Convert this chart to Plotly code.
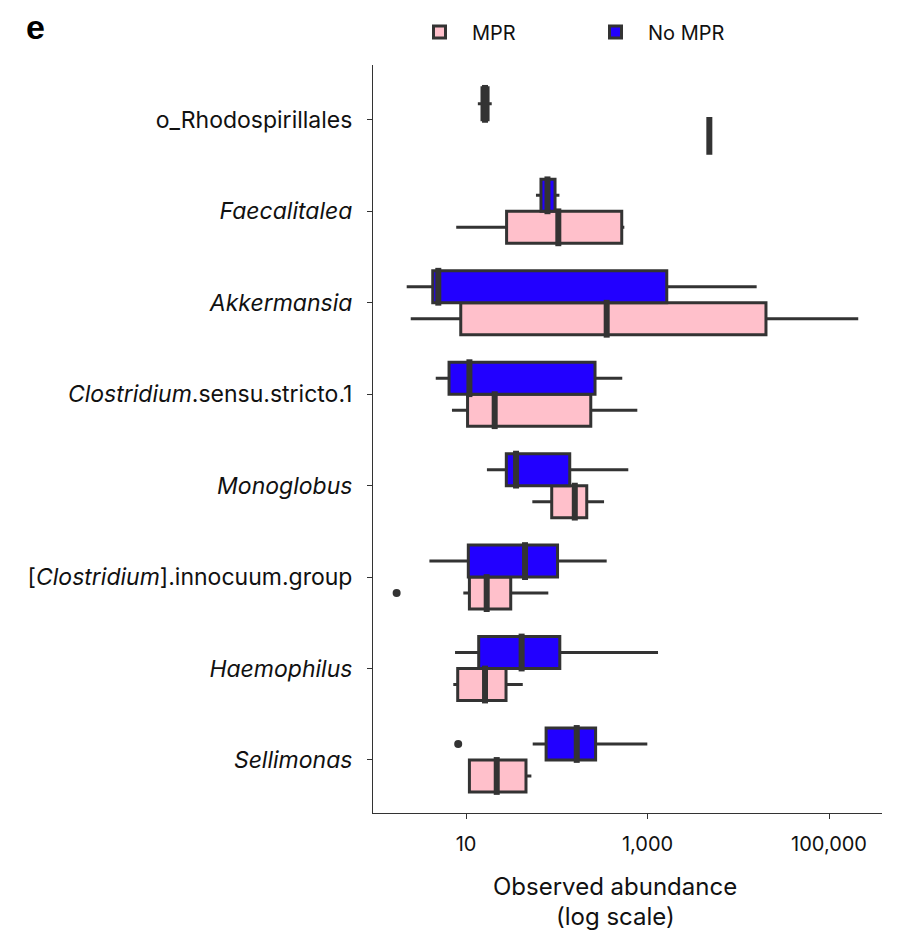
import plotly.graph_objects as go

# ---- data (observed abundance) ----
categories = [
    "o_Rhodospirillales",
    "Faecalitalea",
    "Akkermansia",
    "Clostridium.sensu.stricto.1",
    "Monoglobus",
    "[Clostridium].innocuum.group",
    "Haemophilus",
    "Sellimonas",
]
tick_labels = [
    "o_Rhodospirillales",
    "<i>Faecalitalea</i>",
    "<i>Akkermansia</i>",
    "<i>Clostridium</i>.sensu.stricto.1",
    "<i>Monoglobus</i>",
    "[<i>Clostridium</i>].innocuum.group",
    "<i>Haemophilus</i>",
    "<i>Sellimonas</i>",
]

# MPR
mpr_low = [4800, 7.8, 2.46, 7.0, 53.8, 9.34, 7.24, 10.9]
mpr_q1 = [4750, 28, 8.75, 10.4, 88, 10.9, 8.1, 10.9]
mpr_med = [4800, 104, 355, 20.7, 158, 16.9, 16.2, 21.8]
mpr_q3 = [4850, 520, 20200, 237, 214, 31.1, 27.6, 45.8]
mpr_high = [4850, 555, 210000, 772, 332, 80.7, 42.2, 52.5]
mpr_out_cat = ["[Clostridium].innocuum.group"]
mpr_out_val = [1.72]

# No MPR
nompr_low = [13.5, 59, 2.22, 4.64, 17, 3.95, 7.57, 54.3]
nompr_q1 = [15.0, 67, 4.3, 6.5, 27.8, 10.6, 13.8, 76.3]
nompr_med = [16.2, 79, 4.95, 10.9, 35.6, 44.7, 41, 166]
nompr_q3 = [17.5, 95.7, 1630, 264, 139, 102, 108, 268]
nompr_high = [19.2, 107, 15950, 527, 614, 355, 1306, 995]
nompr_out_cat = ["Sellimonas"]
nompr_out_val = [8.2]

x_tick_vals = [10, 1000, 100000]
x_tick_text = ["10", "1,000", "100,000"]
x_title_lines = ["Observed abundance", "(log scale)"]

LINE = "#333333"
PINK = "#FFC0CB"
BLUE = "#2200FF"
FONT = "Inter"

W, H = 899, 930
ML, MR, MT, MB = 365, 25, 57, 125
PW, PH = W - ML - MR, H - MT - MB


def px_to_paper_x(px):
    return (px - ML) / PW


def px_to_paper_y(py):
    return (H - MB - py) / PH


fig = go.Figure()
fig.add_trace(go.Box(
    name="MPR", y=categories, orientation="h",
    q1=mpr_q1, median=mpr_med, q3=mpr_q3,
    lowerfence=mpr_low, upperfence=mpr_high,
    fillcolor=PINK, line=dict(color=LINE, width=3),
    whiskerwidth=0, offsetgroup="MPR", boxpoints=False,
))
fig.add_trace(go.Box(
    name="No MPR", y=categories, orientation="h",
    q1=nompr_q1, median=nompr_med, q3=nompr_q3,
    lowerfence=nompr_low, upperfence=nompr_high,
    fillcolor=BLUE, line=dict(color=LINE, width=3),
    whiskerwidth=0, offsetgroup="NoMPR", boxpoints=False,
))
# thicker median bars
for med, grp in ((mpr_med, "MPR"), (nompr_med, "NoMPR")):
    fig.add_trace(go.Scatter(
        x=med, y=categories, mode="markers", orientation="h",
        marker=dict(symbol="line-ns", size=27, line=dict(color=LINE, width=6)),
        offsetgroup=grp, showlegend=False, hoverinfo="skip",
    ))
fig.add_trace(go.Scatter(
    x=mpr_out_val, y=mpr_out_cat, mode="markers", orientation="h",
    marker=dict(color=LINE, size=8), offsetgroup="MPR", showlegend=False,
))
fig.add_trace(go.Scatter(
    x=nompr_out_val, y=nompr_out_cat, mode="markers", orientation="h",
    marker=dict(color=LINE, size=8), offsetgroup="NoMPR", showlegend=False,
))

fig.update_layout(
    width=W, height=H,
    margin=dict(l=ML, r=MR, t=MT, b=MB, autoexpand=False),
    paper_bgcolor="white", plot_bgcolor="white",
    boxmode="group", boxgap=0.3, boxgroupgap=0.0,
    scattermode="group", scattergap=0.3,
    font=dict(family=FONT, size=21, color="#111111"),
    legend=dict(
        orientation="h", x=399 / W, xref="container", xanchor="left",
        y=1 - 24 / H, yref="container", yanchor="middle",
        font=dict(size=20), itemwidth=55, traceorder="normal",
        entrywidth=106, entrywidthmode="pixels",
    ),
    xaxis=dict(
        type="log", range=[-0.025, 5.584],
        tickvals=x_tick_vals, ticktext=x_tick_text,
        ticks="outside", ticklen=5, tickcolor=LINE, ticklabelstandoff=8,
        showline=True, linecolor=LINE, linewidth=1,
        showgrid=False, zeroline=False,
        tickfont=dict(size=20),
    ),
    yaxis=dict(
        type="category", categoryorder="array", categoryarray=categories[::-1],
        tickvals=categories, ticktext=tick_labels,
        range=[-0.58, 7.6],
        ticks="outside", ticklen=5, tickcolor=LINE, ticklabelstandoff=10,
        showline=True, linecolor=LINE, linewidth=1,
        showgrid=False, zeroline=False, tickfont=dict(size=23),
    ),
    annotations=[
        dict(
            text="<b>e</b>", x=px_to_paper_x(27), y=px_to_paper_y(19),
            xref="paper", yref="paper", showarrow=False,
            xanchor="center", yanchor="middle",
            font=dict(family="Liberation Sans", size=34, color="black"),
        ),
        dict(
            text=x_title_lines[0], x=px_to_paper_x(607), y=px_to_paper_y(878),
            xref="paper", yref="paper", showarrow=False,
            xanchor="center", yanchor="middle",
            font=dict(size=24),
        ),
        dict(
            text=x_title_lines[1], x=px_to_paper_x(607), y=px_to_paper_y(908),
            xref="paper", yref="paper", showarrow=False,
            xanchor="center", yanchor="middle",
            font=dict(size=24),
        ),
    ],
)

fig.write_html("out.html")
